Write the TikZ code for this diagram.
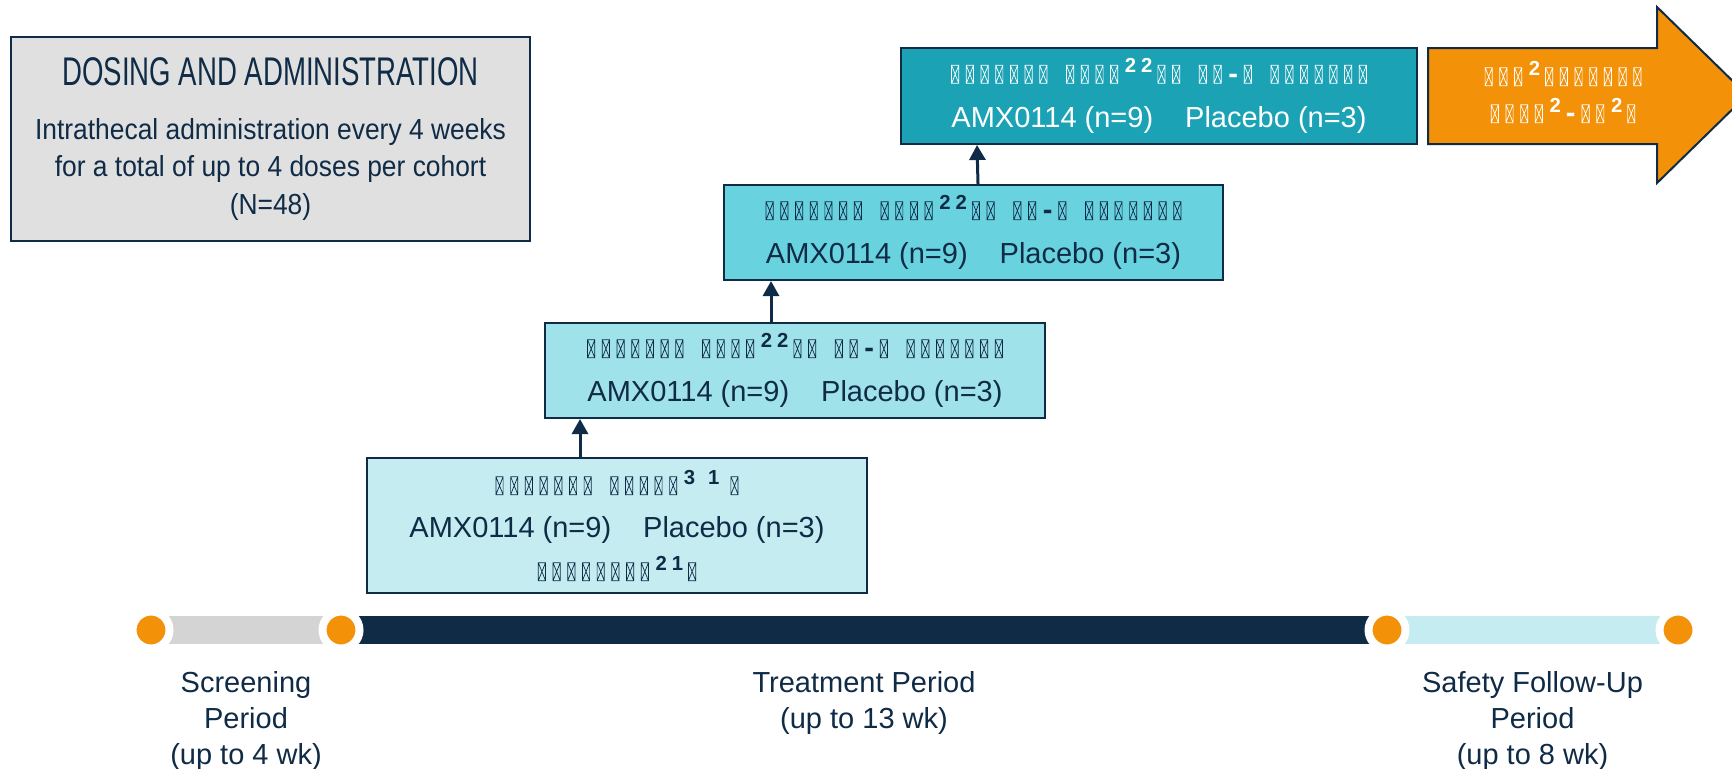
\documentclass[tikz,border=0pt]{standalone}
\usepackage{fontspec}
\setmainfont{Liberation Sans}
\newfontfamily\headfont[FakeStretch=0.69]{Liberation Sans}
\newfontfamily\condfont[FakeStretch=0.91]{Liberation Sans}
\usetikzlibrary{arrows.meta}
\usetikzlibrary{positioning}
\usetikzlibrary{calc}
\definecolor{navy}{HTML}{0F2B46}
\definecolor{orange}{HTML}{F39208}
\definecolor{boxgray}{HTML}{E0E0E0}
\definecolor{bargray}{HTML}{D4D4D4}
\definecolor{cohortA}{HTML}{C4ECF1}
\definecolor{cohortB}{HTML}{A0E2EA}
\definecolor{cohortC}{HTML}{69D2DF}
\definecolor{cohortD}{HTML}{1BA3B5}
% missing-glyph boxes and raised digits
\newcommand\tf{\tikz[baseline=0pt]\draw[line width=0.35pt] (0,0) rectangle (3.6pt,9pt) (0,0) -- (3.6pt,9pt) (0,9pt) -- (3.6pt,0);\hspace{3.4pt}}
\newcommand\hi[1]{\textsuperscript{\bfseries#1}\hspace{2pt}}
\newcommand\wg{\hspace{6pt}}
\newcommand\doseline{\tf\tf\tf\tf\tf\tf\tf\wg\tf\tf\tf\tf\hi{2}\hi{2}\tf\tf\wg\tf\tf\textbf{-}\hspace{3pt}\tf\wg\tf\tf\tf\tf\tf\tf\tf}
\newcommand\armline{AMX0114 (n=9)\hspace{16pt}Placebo (n=3)}
\begin{document}
\begin{tikzpicture}[x=0.5pt,y=-0.5pt,
		every node/.style={text=navy},
		cohort/.style={draw=navy,line width=1pt,align=center,inner sep=0pt,
			font=\fontsize{14.5}{22}\selectfont},
		link/.style={draw=navy,line width=1.5pt,-{Triangle[width=8pt,length=7.5pt]}},
		dot/.style={circle,fill=orange,draw=white,line width=4pt,minimum size=18.5pt,inner sep=0pt},
		bar/.style={line width=14pt},
		period/.style={align=center,inner sep=0pt,font=\fontsize{14.5}{18}\selectfont}]
	\fill[white] (0,0) rectangle (1732,768);
	\useasboundingbox (0,0) rectangle (1732,768);
	
	% dosing box
	\node[draw=navy,line width=1pt,fill=boxgray,minimum width=259.5pt,minimum height=102pt,inner sep=0pt] (dosebox) at (270.5,139) {};
	\node[font=\headfont\fontsize{20}{24}\selectfont] (dosehead) at (270.5,72) {DOSING AND ADMINISTRATION};
	\node[align=center,font=\condfont\fontsize{14.5}{18.75}\selectfont] (dosetext) at (270.5,169)
		{Intrathecal administration every 4 weeks\\for a total of up to 4 doses per cohort\\(N=48)};
	
	% cohorts
	\node[cohort,fill=cohortA,minimum width=250pt,minimum height=67.5pt,font=\fontsize{14.5}{21.5}\selectfont] (c1) at (617,525.5)
		{\tf\tf\tf\tf\tf\tf\tf\wg\tf\tf\tf\tf\tf\hi{3}\hspace{4pt}\hi{1}\hspace{3pt}\tf\\\armline\\\tf\tf\tf\tf\tf\tf\tf\tf\hi{2}\hi{1}\tf};
	\node[cohort,fill=cohortB,minimum width=250pt,minimum height=47.5pt] (c2) at (795,370.5) {\doseline\\\armline};
	\node[cohort,fill=cohortC,minimum width=249.5pt,minimum height=47.5pt] (c3) at (973.5,232.5) {\doseline\\\armline};
	\node[cohort,fill=cohortD,text=white,minimum width=258pt,minimum height=48pt] (c4) at (1159,96) {\doseline\\\armline};
	
	\draw[link] ([xshift=107pt]c1.north west) -- ([xshift=18pt]c2.south west);
	\draw[link] ([xshift=113.5pt]c2.north west) -- ([xshift=24pt]c3.south west);
	\draw[link] ([xshift=127.5pt]c3.north west) -- ([xshift=38.5pt]c4.south west);
	
	% extension arrow
	\draw[navy,line width=1pt,fill=orange] (1428,48) -- (1657,48) -- (1657,7) -- (1747,95)
		-- (1657,183) -- (1657,144) -- (1428,144) -- cycle;
	\node[text=white,align=center,inner sep=0pt,font=\fontsize{14.5}{18.5}\selectfont] (nexttext) at (1563,92)
		{\tf\tf\tf\hi{2}\tf\tf\tf\tf\tf\tf\tf\\\tf\tf\tf\tf\hi{2}\textbf{-}\hspace{3pt}\tf\tf\hi{2}\tf};
	
	% timeline
	\coordinate (t1) at (151,630);
	\coordinate (t2) at (341,630);
	\coordinate (t3) at (1387,630);
	\coordinate (t4) at (1678,630);
	\draw[bar,bargray] (t1) -- (t2);
	\draw[bar,navy] (t2) -- (t3);
	\draw[bar,cohortA] (t3) -- (t4);
	\foreach \t in {1,...,4}
		\node[dot] (d\t) at (t\t) {};
	
	\coordinate (m12) at ($(t1)!0.5!(t2)$);
	\coordinate (m23) at ($(t2)!0.5!(t3)$);
	\coordinate (m34) at ($(t3)!0.5!(t4)$);
	\node[period,below=20.5pt of m12] (screen) {Screening\\Period\\(up to 4 wk)};
	\node[period,below=20.5pt of m23] (treat) {Treatment Period\\(up to 13 wk)};
	\node[period,below=20.5pt of m34] (safety) {Safety Follow-Up\\Period\\(up to 8 wk)};
\end{tikzpicture}
\end{document}
